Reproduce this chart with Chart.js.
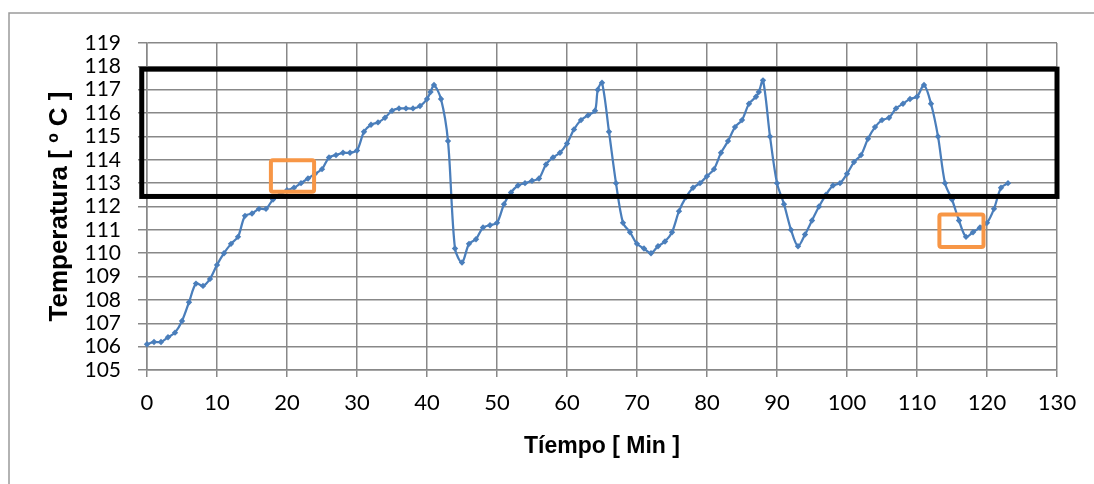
<!DOCTYPE html>
<html lang="es">
<head>
<meta charset="utf-8">
<title>Temperatura vs Tiempo</title>
<script src="https://cdn.jsdelivr.net/npm/chart.js@4/dist/chart.umd.min.js"></script>
<style>
  html, body { margin: 0; padding: 0; background: #ffffff; }
  #wrap { width: 1094px; height: 484px; position: relative; }
</style>
</head>
<body>
<div id="wrap"><canvas id="grafico" width="1094" height="484"></canvas></div>
<script>
// Tiempo de muestreo [min]
const tiempo = [
  0, 1, 2, 3, 4, 5, 6, 7, 8, 9,
  10, 11, 12, 13, 14, 15, 16, 17, 18, 19,
  20, 21, 22, 23, 24, 25, 26, 27, 28, 29,
  30, 31, 32, 33, 34, 35, 36, 37, 38, 39,
  40, 40.5, 41, 42, 43, 44, 45, 46, 47, 48, 49,
  50, 51, 52, 53, 54, 55, 56, 57, 58, 59,
  60, 61, 62, 63, 64, 64.4, 65, 66, 67, 68, 69,
  70, 71, 72, 73, 74, 75, 76, 77, 78, 79,
  80, 81, 82, 83, 84, 85, 86, 87, 87.4, 88, 89,
  90, 91, 92, 93, 94, 95, 96, 97, 98, 99,
  100, 101, 102, 103, 104, 105, 106, 107, 108, 109,
  110, 111, 112, 113, 114, 115, 116, 117, 118, 119,
  120, 121, 122, 123
];

// Temperatura medida [ºC]
const temperatura = [
  106.1, 106.2, 106.2, 106.4, 106.6, 107.1, 107.9, 108.7, 108.6, 108.9,
  109.5, 110.0, 110.4, 110.7, 111.6, 111.7, 111.9, 111.9, 112.3, 112.5,
  112.7, 112.8, 113.0, 113.2, 113.4, 113.6, 114.1, 114.2, 114.3, 114.3,
  114.4, 115.2, 115.5, 115.6, 115.8, 116.1, 116.2, 116.2, 116.2, 116.3,
  116.6, 116.9, 117.2, 116.6, 114.8, 110.2, 109.6, 110.4, 110.6, 111.1, 111.2,
  111.3, 112.1, 112.6, 112.9, 113.0, 113.1, 113.2, 113.8, 114.1, 114.3,
  114.7, 115.3, 115.7, 115.9, 116.1, 117.0, 117.3, 115.2, 113.0, 111.3, 110.9,
  110.4, 110.2, 110.0, 110.3, 110.5, 110.9, 111.8, 112.4, 112.8, 113.0,
  113.3, 113.6, 114.3, 114.8, 115.4, 115.7, 116.4, 116.7, 116.9, 117.4, 115.0,
  113.0, 112.1, 111.0, 110.3, 110.8, 111.4, 112.0, 112.5, 112.9, 113.0,
  113.4, 113.9, 114.2, 114.9, 115.4, 115.7, 115.8, 116.2, 116.4, 116.6,
  116.7, 117.2, 116.4, 115.0, 113.0, 112.3, 111.4, 110.7, 110.9, 111.1,
  111.3, 111.9, 112.8, 113.0
];

// Marcas de los ejes
const ticksTiempo = [0, 10, 20, 30, 40, 50, 60, 70, 80, 90, 100, 110, 120, 130];
const ticksTemperatura = [105, 106, 107, 108, 109, 110, 111, 112, 113, 114, 115, 116, 117, 118, 119];

// Zonas resaltadas (en unidades de los ejes: [min], [ºC])
const bandaOperacion = { xMin: -0.75, xMax: 130, yMin: 112.43, yMax: 117.88 };
const zonasDestacadas = [
  { xMin: 17.7, xMax: 23.87, yMin: 112.63, yMax: 113.98 },
  { xMin: 113.2, xMax: 119.5, yMin: 110.27, yMax: 111.66 }
];

const GRID = '#888888';
const AZUL = '#4a7ebb';

// Marco exterior del área del gráfico
const marcoExterior = {
  id: 'marcoExterior',
  beforeDraw(chart) {
    const ctx = chart.ctx;
    ctx.save();
    ctx.strokeStyle = '#9a9a9a';
    ctx.lineWidth = 1.5;
    ctx.beginPath();
    ctx.moveTo(9, chart.height + 2);
    ctx.lineTo(9, 13);
    ctx.lineTo(chart.width + 2, 13);
    ctx.stroke();
    ctx.restore();
  }
};

// Rectángulos de resalte dibujados sobre la serie
const resaltes = {
  id: 'resaltes',
  afterDatasetsDraw(chart) {
    const { ctx, scales: { x, y } } = chart;
    ctx.save();
    // Banda negra
    const b = bandaOperacion;
    ctx.strokeStyle = '#000000';
    ctx.lineWidth = 5;
    ctx.lineJoin = 'miter';
    ctx.strokeRect(
      x.getPixelForValue(b.xMin), y.getPixelForValue(b.yMax),
      x.getPixelForValue(b.xMax) - x.getPixelForValue(b.xMin),
      y.getPixelForValue(b.yMin) - y.getPixelForValue(b.yMax)
    );
    // Recuadros naranjas
    ctx.strokeStyle = '#f79646';
    ctx.lineWidth = 4;
    ctx.lineJoin = 'round';
    zonasDestacadas.forEach(z => {
      const x0 = x.getPixelForValue(z.xMin), x1 = x.getPixelForValue(z.xMax);
      const y0 = y.getPixelForValue(z.yMax), y1 = y.getPixelForValue(z.yMin);
      ctx.beginPath();
      if (ctx.roundRect) ctx.roundRect(x0, y0, x1 - x0, y1 - y0, 2);
      else ctx.rect(x0, y0, x1 - x0, y1 - y0);
      ctx.stroke();
    });
    ctx.restore();
  }
};

new Chart(document.getElementById('grafico'), {
  type: 'line',
  data: {
    datasets: [{
      label: 'Temperatura',
      data: tiempo.map((t, i) => ({ x: t, y: temperatura[i] })),
      borderColor: AZUL,
      backgroundColor: AZUL,
      borderWidth: 2.25,
      pointStyle: 'rectRot',
      pointRadius: 3.2,
      pointBorderWidth: 0,
      pointBackgroundColor: AZUL,
      tension: 0.3,
      fill: false,
      clip: false
    }]
  },
  options: {
    responsive: false,
    animation: false,
    devicePixelRatio: 1,
    layout: { padding: { left: 0, top: 43, right: 37, bottom: 0 } },
    plugins: {
      legend: { display: false },
      tooltip: { enabled: false }
    },
    scales: {
      x: {
        type: 'linear',
        min: 0,
        max: 130,
        afterBuildTicks(scale) { scale.ticks = ticksTiempo.map(v => ({ value: v })); },
        afterFit(scale) { scale.height = 114; },
        ticks: {
          color: '#000000',
          padding: 13,
          maxRotation: 0,
          autoSkip: false,
          font: { family: 'Lato', size: 22 }
        },
        grid: { color: GRID, lineWidth: 1.5, tickLength: 7, drawTicks: true },
        border: { color: GRID, width: 1.5 },
        title: {
          display: true,
          text: 'Tíempo [ Min ]',
          color: '#000000',
          font: { family: 'Liberation Sans', size: 23, weight: 'bold' },
          padding: { top: 0, bottom: 24 }
        }
      },
      y: {
        type: 'linear',
        min: 105,
        max: 119,
        afterBuildTicks(scale) { scale.ticks = ticksTemperatura.map(v => ({ value: v })); },
        afterFit(scale) { scale.width = 147; },
        ticks: {
          color: '#000000',
          padding: 17,
          autoSkip: false,
          font: { family: 'Lato', size: 21 }
        },
        grid: { color: GRID, lineWidth: 1.5, tickLength: 9, drawTicks: true },
        border: { color: GRID, width: 1.5 },
        title: {
          display: true,
          text: 'Temperatura [ º C ]',
          color: '#000000',
          font: { family: 'Liberation Sans', size: 26, weight: 'bold' },
          padding: { top: 44, bottom: 0 }
        }
      }
    }
  },
  plugins: [marcoExterior, resaltes]
});
</script>
</body>
</html>
